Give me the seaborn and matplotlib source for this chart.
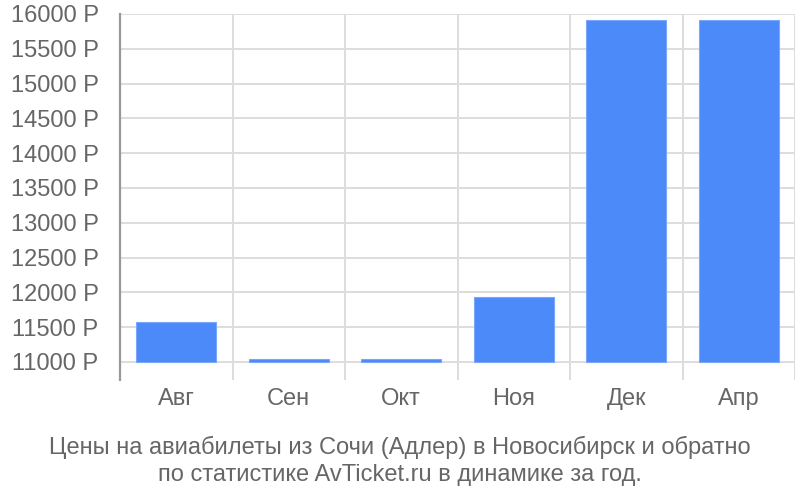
## arrays and tables
import numpy as np
import pandas as pd
## visualisation
import matplotlib
matplotlib.use('Agg')
from matplotlib import pyplot as plt
from matplotlib.ticker import FuncFormatter
import seaborn as sns

## data
months = ['Авг', 'Сен', 'Окт', 'Ноя', 'Дек', 'Апр']
prices = [11575, 11043, 11043, 11934, 15914, 15914]
base = 11000  # bars start at the 11000 line

d = pd.DataFrame({'month': months, 'above': np.array(prices) - base})

sns.set_style('white')
plt.rcParams['font.family'] = ['Liberation Sans', 'DejaVu Sans']
grey = '#666666'

fig = plt.figure(figsize=(8, 5), dpi=100)
ax = fig.add_axes([0.15, 0.24, 0.84375, 0.732])

sns.barplot(
    data=d,
    x='month',
    y='above',
    color='#4c89f9',
    saturation=1,
    width=0.71,
    edgecolor='#7aa7fb',
    linewidth=0.8,
    ax=ax,
    zorder=3,
)

## y axis: show offset values as roubles
ax.set_ylim(-259, 5000)
ax.set_yticks(np.arange(0, 5001, 500))
ax.yaxis.set_major_formatter(FuncFormatter(lambda v, p: f'{int(v + base)} Р'))
ax.grid(axis='y', color='#dddddd', linewidth=1.4, zorder=0)
ax.tick_params(axis='y', length=14.4, width=1.4, color='#dddddd',
               labelsize=17, labelcolor=grey, pad=1)

## x axis: category boundaries as vertical grid lines
ax.set_xlim(-0.5, 5.5)
ax.set_xticks(np.arange(-0.5, 5.6, 1), minor=True)
ax.grid(axis='x', which='minor', color='#dddddd', linewidth=1.4, zorder=0)
ax.tick_params(axis='x', which='both', length=0, labelsize=17,
               labelcolor=grey, pad=6)
ax.set_xlabel('')
ax.set_ylabel('')

for side in ['top', 'right', 'bottom']:
    ax.spines[side].set_visible(False)
ax.spines['left'].set_color('#999999')
ax.spines['left'].set_linewidth(1.6)

fig.text(0.5, 0.078,
         'Цены на авиабилеты из Сочи (Адлер) в Новосибирск и обратно\n'
         'по статистике AvTicket.ru в динамике за год.',
         ha='center', va='center', fontsize=17, color=grey, linespacing=1.28)

fig.savefig('out.png', dpi=100)
